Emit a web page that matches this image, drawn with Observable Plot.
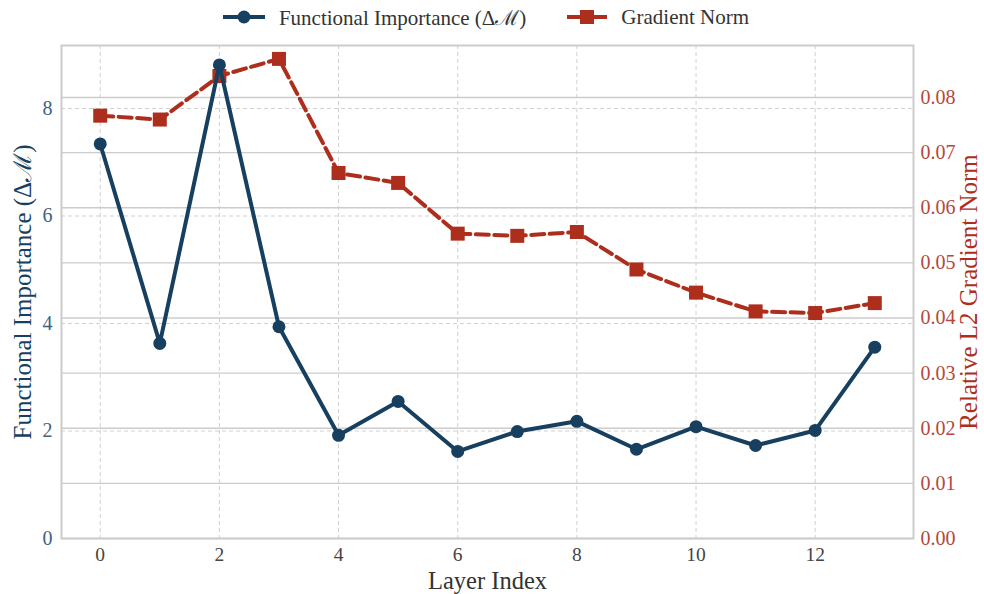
<!DOCTYPE html>
<html><head><meta charset="utf-8">
<script src="https://cdn.jsdelivr.net/npm/d3@7"></script>
<script src="https://cdn.jsdelivr.net/npm/@observablehq/plot@0.6"></script>
<style>
body{margin:0;background:#fff;}
#wrap{position:relative;width:984px;height:594px;font-family:"Liberation Serif",serif;}
#legend{position:absolute;top:4px;left:-6px;width:984px;height:26px;display:flex;justify-content:center;align-items:center;font-size:21px;color:#333;}
.item{display:flex;align-items:center;}
.item + .item{margin-left:41px;}
.item svg{margin-right:14px;}
</style></head>
<body>
<div id="wrap">
<div id="legend">
  <div class="item"><svg width="42" height="16"><line x1="0" x2="42" y1="8" y2="8" stroke="#173f5f" stroke-width="4"/><circle cx="21" cy="8" r="6.5" fill="#173f5f"/></svg><span>Functional Importance (Δℳ)</span></div>
  <div class="item"><svg width="40" height="16"><line x1="0" x2="40" y1="8" y2="8" stroke="#ad2e1c" stroke-width="4"/><rect x="13" y="1" width="14" height="14" fill="#ad2e1c"/></svg><span>Gradient Norm</span></div>
</div>
</div>
<script>
const layers = [0,1,2,3,4,5,6,7,8,9,10,11,12,13];
const importance = [7.34,3.63,8.81,3.94,1.92,2.55,1.62,1.99,2.18,1.66,2.08,1.73,2.01,3.56];
const gradNorm = [0.0767,0.0760,0.0839,0.0870,0.0663,0.0645,0.0553,0.0549,0.0556,0.0488,0.0446,0.0412,0.0409,0.0427];
const xTicks = [0,2,4,6,8,10,12];
const leftTicks = [0,2,4,6,8];
const rightTicks = [0,0.01,0.02,0.03,0.04,0.05,0.06,0.07,0.08];

const leftMax = 9.172, rightMax = 0.08943;
const k = leftMax / rightMax;
const blue = "#173f5f", red = "#ad2e1c";

const impData = layers.map((l,i)=>({l, v: importance[i]}));
const gradData = layers.map((l,i)=>({l, v: gradNorm[i]*k}));

const chart = Plot.plot({
  width: 984, height: 594,
  marginLeft: 61, marginRight: 71, marginTop: 45, marginBottom: 56,
  style: {fontFamily: '"Liberation Serif", serif', background: "transparent"},
  x: {domain: [-0.65, 13.65]},
  y: {domain: [0, leftMax]},
  marks: [
    Plot.gridX(xTicks, {stroke: "#d0d0d0", strokeOpacity: 1, strokeDasharray: "4,3", strokeWidth: 1}),
    Plot.gridY(leftTicks, {stroke: "#d0d0d0", strokeOpacity: 1, strokeDasharray: "4,3", strokeWidth: 1}),
    Plot.gridY(rightTicks.map(t => t*k), {stroke: "#cccccc", strokeOpacity: 1, strokeWidth: 1.4}),
    Plot.frame({stroke: "#cccccc", strokeWidth: 2}),
    Plot.axisX(xTicks, {tickSize: 0, tickPadding: 9, fontSize: 19.5, color: "#444", label: null, tickFormat: d => String(d)}),
    Plot.axisY(leftTicks, {anchor: "left", tickSize: 0, tickPadding: 9, fontSize: 20, color: "#3d6286", label: null, tickFormat: d => String(d)}),
    Plot.axisY(rightTicks.map(t => t*k), {anchor: "right", tickSize: 0, tickPadding: 7, fontSize: 20, color: "#b5483a", label: null,
      tickFormat: d => (d/k).toFixed(2)}),
    Plot.text(["Layer Index"], {frameAnchor: "bottom", lineAnchor: "middle", dy: 43, fontSize: 24.5, fill: "#333"}),
    Plot.text(["Functional Importance (Δℳ)"], {frameAnchor: "left", textAnchor: "middle", lineAnchor: "middle", dx: -39, rotate: -90, fontSize: 25, fill: blue}),
    Plot.text(["Relative L2 Gradient Norm"], {frameAnchor: "right", textAnchor: "middle", lineAnchor: "middle", dx: 55, rotate: -90, fontSize: 25, fill: red}),
    Plot.line(gradData, {x: "l", y: "v", stroke: red, strokeWidth: 4, strokeDasharray: "13,5.5"}),
    Plot.dot(gradData, {x: "l", y: "v", symbol: "square", r: 7.9, fill: red}),
    Plot.line(impData, {x: "l", y: "v", stroke: blue, strokeWidth: 4}),
    Plot.dot(impData, {x: "l", y: "v", r: 6.5, fill: blue})
  ]
});
document.getElementById("wrap").appendChild(chart);
</script>
</body></html>
